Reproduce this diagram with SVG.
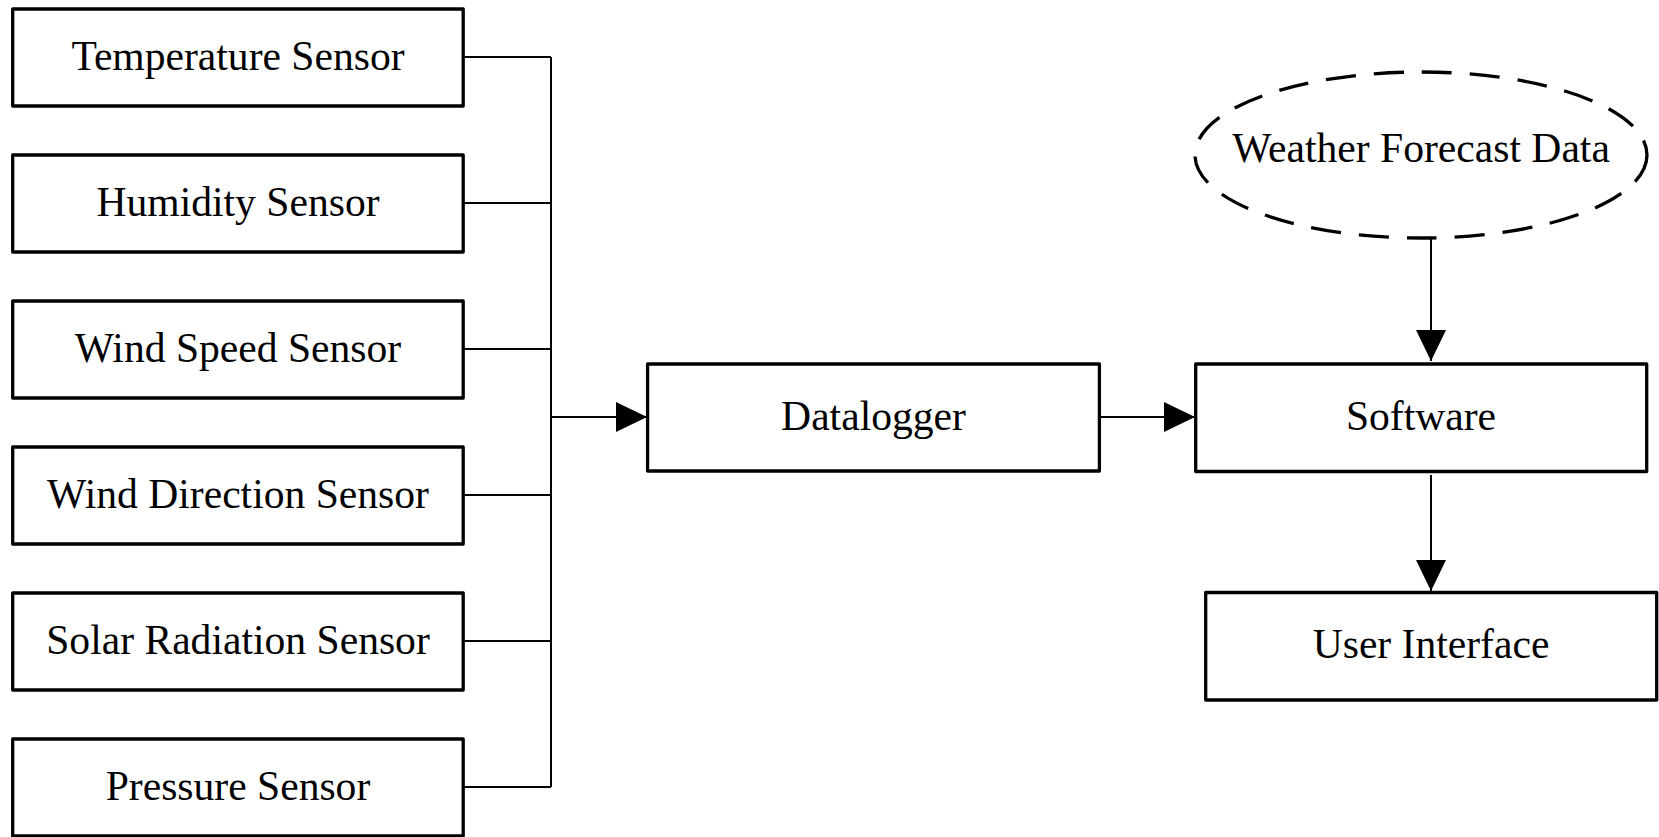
<svg xmlns="http://www.w3.org/2000/svg" width="1659" height="837" viewBox="0 0 1659 837">
  <style>
    .box { fill: #fff; stroke: #000; stroke-width: 3.3; stroke-linejoin: round; }
    .lbl { font-family: "Liberation Serif", "Times New Roman", serif; font-size: 41.6px; fill: #000; text-anchor: middle; }
    .wire { fill: none; stroke: #000; stroke-width: 2; }
    .cloud { fill: #fff; stroke: #000; stroke-width: 3.3; stroke-dasharray: 30 18; }
  </style>
  <defs>
    <marker id="arrow" markerUnits="userSpaceOnUse" markerWidth="32" markerHeight="32" refX="31" refY="15" orient="auto">
      <path d="M0,0 L31,15 L0,30 Z" fill="#000"/>
    </marker>
  </defs>
  <rect width="1659" height="837" fill="#fff"/>

  <!-- sensor-to-datalogger bus and flow arrows -->
  <g id="connectors">
    <path class="wire" d="M463,57 H551 M463,203 H551 M463,349 H551 M463,495 H551 M463,641 H551 M463,787 H551 M551,57 V787"/>
    <path class="wire" d="M551,417 H647" marker-end="url(#arrow)"/>
    <path class="wire" d="M1099,417 H1195" marker-end="url(#arrow)"/>
    <path class="wire" d="M1431,238 V361" marker-end="url(#arrow)"/>
    <path class="wire" d="M1431,475 V591" marker-end="url(#arrow)"/>
  </g>

  <g id="temperature-sensor">
    <rect class="box" x="12.7" y="9" width="450.5" height="97"/>
    <text class="lbl" x="238" y="70">Temperature Sensor</text>
  </g>
  <g id="humidity-sensor">
    <rect class="box" x="12.7" y="155" width="450.5" height="97"/>
    <text class="lbl" x="238" y="216">Humidity Sensor</text>
  </g>
  <g id="wind-speed-sensor">
    <rect class="box" x="12.7" y="301" width="450.5" height="97"/>
    <text class="lbl" x="238" y="362">Wind Speed Sensor</text>
  </g>
  <g id="wind-direction-sensor">
    <rect class="box" x="12.7" y="447" width="450.5" height="97"/>
    <text class="lbl" x="238" y="508">Wind Direction Sensor</text>
  </g>
  <g id="solar-radiation-sensor">
    <rect class="box" x="12.7" y="593" width="450.5" height="97"/>
    <text class="lbl" x="238" y="654">Solar Radiation Sensor</text>
  </g>
  <g id="pressure-sensor">
    <rect class="box" x="12.7" y="739" width="450.5" height="97"/>
    <text class="lbl" x="238" y="800">Pressure Sensor</text>
  </g>

  <g id="datalogger">
    <rect class="box" x="647.6" y="364" width="451.8" height="107"/>
    <text class="lbl" x="873.5" y="430">Datalogger</text>
  </g>
  <g id="software">
    <rect class="box" x="1195.7" y="364" width="451" height="107.5"/>
    <text class="lbl" x="1421" y="430">Software</text>
  </g>
  <g id="weather-forecast-data">
    <ellipse class="cloud" cx="1421" cy="155" rx="226" ry="83"/>
    <text class="lbl" x="1421" y="162">Weather Forecast Data</text>
  </g>
  <g id="user-interface">
    <rect class="box" x="1205.7" y="592.5" width="451" height="107.5"/>
    <text class="lbl" x="1431" y="658">User Interface</text>
  </g>
</svg>
